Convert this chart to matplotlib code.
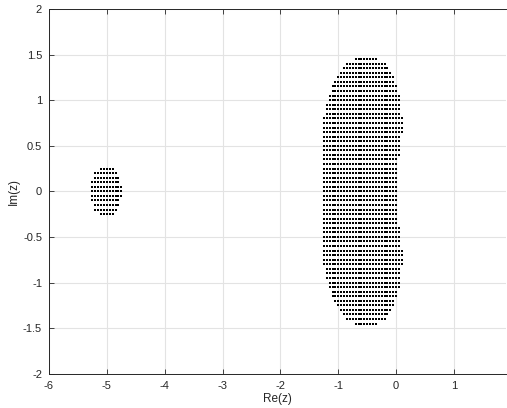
import numpy as np
import matplotlib
matplotlib.use("Agg")
import matplotlib.pyplot as plt

plt.rcParams['font.family'] = ['Liberation Sans', 'DejaVu Sans']
plt.rcParams['axes.unicode_minus'] = False

step = 0.05

# Large region: rows by |Im(z)|, with Re(z) extent (symmetric about real axis)
big_abs_y = [0.00, 0.05, 0.10, 0.15, 0.20, 0.25, 0.30, 0.35, 0.40, 0.45, 0.50,
             0.55, 0.60, 0.65, 0.70, 0.75, 0.80, 0.85, 0.90, 0.95, 1.00, 1.05,
             1.10, 1.15, 1.20, 1.25, 1.30, 1.35, 1.40, 1.45]
big_xmin = [-1.25, -1.25, -1.25, -1.25, -1.25, -1.25, -1.25, -1.25, -1.25, -1.25, -1.25,
            -1.25, -1.25, -1.25, -1.25, -1.25, -1.25, -1.20, -1.20, -1.20, -1.15, -1.15,
            -1.10, -1.10, -1.05, -1.00, -0.95, -0.90, -0.85, -0.70]
big_xmax = [0.00, 0.00, 0.00, 0.00, 0.00, 0.00, 0.00, 0.00, 0.05, 0.05, 0.05,
            0.05, 0.05, 0.10, 0.10, 0.10, 0.10, 0.05, 0.05, 0.05, 0.05, 0.05,
            0.00, 0.00, -0.05, -0.05, -0.10, -0.15, -0.20, -0.35]

# Small region
small_abs_y = [0.00, 0.05, 0.10, 0.15, 0.20, 0.25]
small_xmin = [-5.25, -5.25, -5.25, -5.20, -5.20, -5.10]
small_xmax = [-4.75, -4.75, -4.80, -4.80, -4.85, -4.90]

xticks = [-6, -5, -4, -3, -2, -1, 0, 1]
yticks = [-2, -1.5, -1, -0.5, 0, 0.5, 1, 1.5, 2]
yticklabels = ['-2', '-1.5', '-1', '-0.5', '0', '0.5', '1', '1.5', '2']


def region_points(abs_y, xmin, xmax):
    xs, ys = [], []
    for ay, a, b in zip(abs_y, xmin, xmax):
        n = int(round((b - a) / step)) + 1
        row = a + step * np.arange(n)
        for yy in ([ay] if ay == 0 else [ay, -ay]):
            xs.extend(row)
            ys.extend([yy] * n)
    return np.array(xs), np.array(ys)


fig = plt.figure(figsize=(5.07, 4.08), dpi=100)
ax = fig.add_axes([49 / 507, 34.3 / 408, (506.1 - 49) / 507, (373.7 - 9) / 408])

for abs_y, xmin, xmax in [(big_abs_y, big_xmin, big_xmax),
                          (small_abs_y, small_xmin, small_xmax)]:
    xs, ys = region_points(abs_y, xmin, xmax)
    ax.plot(xs, ys, linestyle='none', marker='s', markersize=1.6,
            color='black', markeredgewidth=0)

ax.set_xlim(-6, 1.9)
ax.set_ylim(-2, 2)
ax.set_xticks(xticks)
ax.set_xticklabels([str(t) for t in xticks])
ax.set_yticks(yticks)
ax.set_yticklabels(yticklabels)
ax.grid(True, color='#e3e3e3', linewidth=0.8)
ax.set_axisbelow(True)
ax.tick_params(direction='in', length=3.5, width=0.6, colors='#262626',
               labelsize=8, top=True, right=False, pad=5)
for s in ['left', 'bottom', 'top']:
    ax.spines[s].set_color('#262626')
    ax.spines[s].set_linewidth(0.7)
ax.spines['right'].set_visible(False)
ax.set_xlabel('Re(z)', fontsize=8.5, color='#262626', labelpad=2)
ax.set_ylabel('Im(z)', fontsize=8.5, color='#262626', labelpad=2)

fig.savefig('out.png', dpi=100)
